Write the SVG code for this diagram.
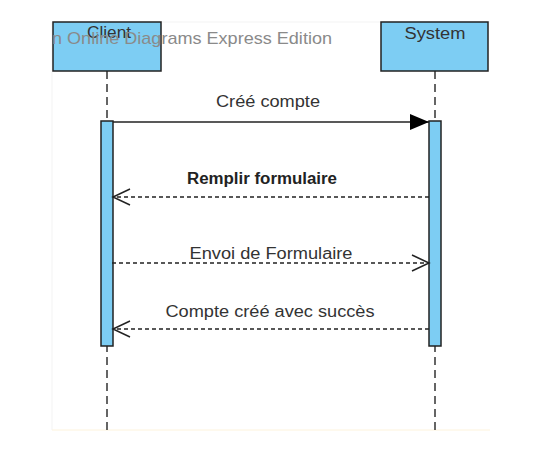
<svg xmlns="http://www.w3.org/2000/svg" width="533" height="476" viewBox="0 0 533 476">
<style>
.box{fill:#7dcdf3;stroke:#222;stroke-width:1.5}
.act{fill:#7dcdf3;stroke:#222;stroke-width:1.5}
.life{stroke:#333;stroke-width:1.5;stroke-dasharray:8,5;fill:none}
.msg{stroke:#222;stroke-width:1.5;fill:none}
.dash{stroke-dasharray:4,3}
.t{font-family:"Liberation Sans",Arial,sans-serif;font-size:16px;fill:#333;text-anchor:middle}
.wm{font-family:"Liberation Sans",Arial,sans-serif;font-size:17px;fill:#8a8a8a}
</style>
<defs>
<marker id="fill" markerWidth="20" markerHeight="18" refX="19" refY="9" orient="auto" markerUnits="userSpaceOnUse"><path d="M0,1 L19,9 L0,17 Z" fill="#000"/></marker>
<marker id="open" markerWidth="20" markerHeight="20" refX="18" refY="10" orient="auto" markerUnits="userSpaceOnUse"><path d="M1,2 L18,10 L1,18" fill="none" stroke="#222" stroke-width="1.5"/></marker>
</defs>
<rect x="0" y="0" width="533" height="476" fill="#fff"/>
<path d="M52,22 V430 M161,22 H490" stroke="#f3f3f3" stroke-width="1" fill="none"/>
<path d="M52,430 H490" stroke="#fdf3dc" stroke-width="1"/>
<g id="lifelines">
<line class="life" x1="107" y1="71" x2="107" y2="430"/>
<line class="life" x1="435" y1="71" x2="435" y2="430"/>
</g>
<g id="client">
<rect class="box" x="53" y="22" width="108" height="49"/>
<text class="t" x="109" y="38" textLength="44" lengthAdjust="spacingAndGlyphs">Client</text>
</g>
<g id="system">
<rect class="box" x="381" y="22" width="107" height="49"/>
<text class="t" x="435" y="39" textLength="61" lengthAdjust="spacingAndGlyphs">System</text>
</g>
<text class="wm" x="52" y="44" textLength="280" lengthAdjust="spacingAndGlyphs">n Online Diagrams Express Edition</text>
<g id="client-activation">
<rect class="act" x="101" y="121" width="12" height="225"/>
</g>
<g id="system-activation">
<rect class="act" x="429" y="121" width="12" height="225"/>
</g>
<g id="connectors">
<line class="msg" x1="113" y1="122" x2="429" y2="122" marker-end="url(#fill)"/>
<text class="t" x="268" y="107" textLength="104" lengthAdjust="spacingAndGlyphs">Créé compte</text>
<line class="msg dash" x1="429" y1="197" x2="113" y2="197" marker-end="url(#open)"/>
<text class="t" x="262" y="184" textLength="150" lengthAdjust="spacingAndGlyphs" style="font-weight:bold;fill:#222">Remplir formulaire</text>
<line class="msg dash" x1="112" y1="263" x2="429" y2="263" marker-end="url(#open)"/>
<text class="t" x="271" y="259" textLength="163" lengthAdjust="spacingAndGlyphs">Envoi de Formulaire</text>
<line class="msg dash" x1="429" y1="329" x2="113" y2="329" marker-end="url(#open)"/>
<text class="t" x="270" y="317" textLength="209" lengthAdjust="spacingAndGlyphs">Compte créé avec succès</text>
</g>
</svg>
